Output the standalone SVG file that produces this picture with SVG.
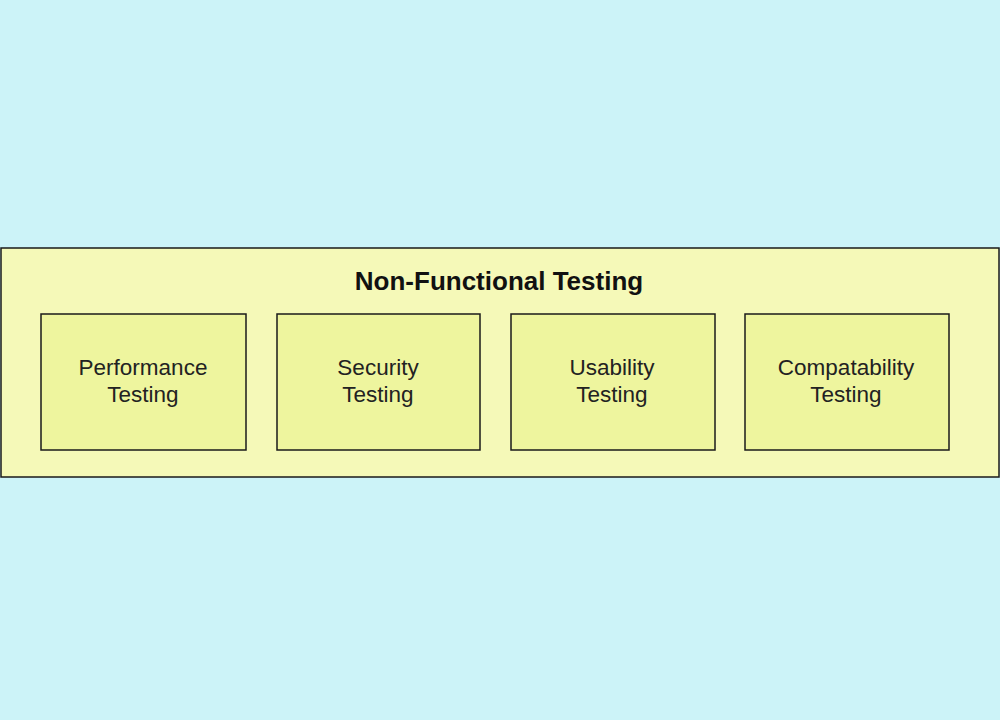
<svg xmlns="http://www.w3.org/2000/svg" width="1000" height="720" viewBox="0 0 1000 720">
<style>
.n{fill:#eef59e;stroke:#1a1a1a;stroke-width:1.5}
.t{font-family:"Liberation Sans",Arial,sans-serif;font-size:22.5px;fill:#222;text-anchor:middle}
</style>
<rect width="1000" height="720" fill="#ccf3f8"/>
<g id="outer">
<rect x="1" y="248" width="998" height="229" fill="#f5f9b8" stroke="#1a1a1a" stroke-width="1.5"/>
<text x="499" y="290" class="t" style="font-weight:bold;font-size:26px;fill:#111">Non-Functional Testing</text>
</g>
<g id="performance"><rect class="n" x="41" y="314" width="205" height="136"/><text class="t" x="143" y="375">Performance</text><text class="t" x="143" y="402">Testing</text></g>
<g id="security"><rect class="n" x="277" y="314" width="203" height="136"/><text class="t" x="378" y="375">Security</text><text class="t" x="378" y="402">Testing</text></g>
<g id="usability"><rect class="n" x="511" y="314" width="204" height="136"/><text class="t" x="612" y="375">Usability</text><text class="t" x="612" y="402">Testing</text></g>
<g id="compat"><rect class="n" x="745" y="314" width="204" height="136"/><text class="t" x="846" y="375">Compatability</text><text class="t" x="846" y="402">Testing</text></g>
<g id="connectors"/>
</svg>
